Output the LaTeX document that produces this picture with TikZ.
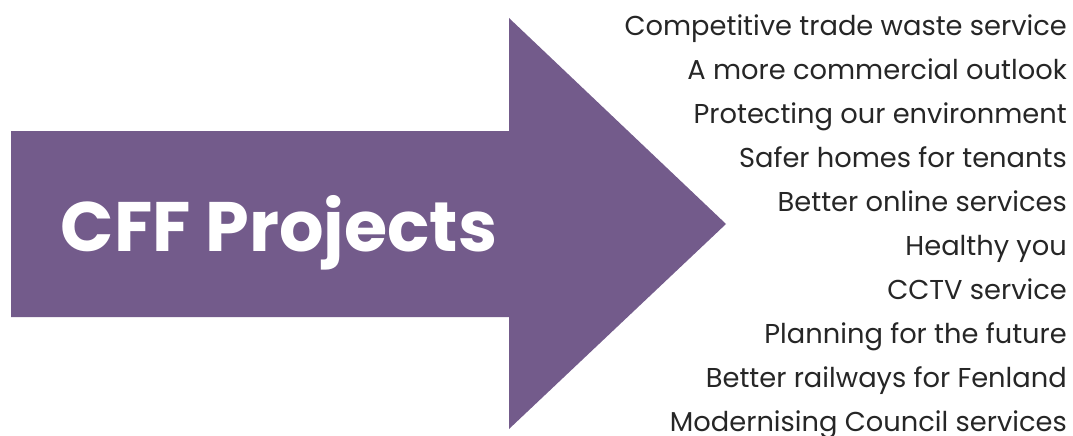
\documentclass[tikz,border=0pt]{standalone}
\usepackage{fontspec}
\setmainfont{Poppins}
\usepackage{tikz}
\usetikzlibrary{positioning}
\definecolor{cffpurple}{HTML}{735B8B}
\definecolor{itemgrey}{HTML}{262626}

\begin{document}
\begin{tikzpicture}[x=1pt,y=-1pt,
  item/.style={anchor=north east,inner sep=0pt,text height=19.5pt,text depth=6.5pt,
    text=itemgrey,font=\fontsize{27.3}{27.3}\selectfont},
  title node/.style={anchor=base,text=white,inner sep=0pt,font=\fontsize{70}{70}\selectfont\bfseries}]

  \useasboundingbox (0,0) rectangle (1073,436);

  % big arrow
  \fill[cffpurple] (11,131) -- (509,131) -- (509,18) -- (726,224)
    -- (509,429) -- (509,317) -- (11,317) -- cycle;

  \node[title node] (title) at (279,251) {CFF Projects};

  \node[item] (i1) at (1067,15.5) {Competitive trade waste service};
  \node[item] (i2) [below=17.6pt of i1.south east,anchor=north east] {A more commercial outlook};
  \node[item] (i3) [below=17.6pt of i2.south east,anchor=north east] {Protecting our environment};
  \node[item] (i4) [below=17.6pt of i3.south east,anchor=north east] {Safer homes for tenants};
  \node[item] (i5) [below=17.6pt of i4.south east,anchor=north east] {Better online services};
  \node[item] (i6) [below=17.6pt of i5.south east,anchor=north east] {Healthy you};
  \node[item] (i7) [below=17.6pt of i6.south east,anchor=north east] {CCTV service};
  \node[item] (i8) [below=17.6pt of i7.south east,anchor=north east] {Planning for the future};
  \node[item] (i9) [below=17.6pt of i8.south east,anchor=north east] {Better railways for Fenland};
  \node[item] (i10) [below=17.6pt of i9.south east,anchor=north east] {Modernising Council services};
\end{tikzpicture}
\end{document}
